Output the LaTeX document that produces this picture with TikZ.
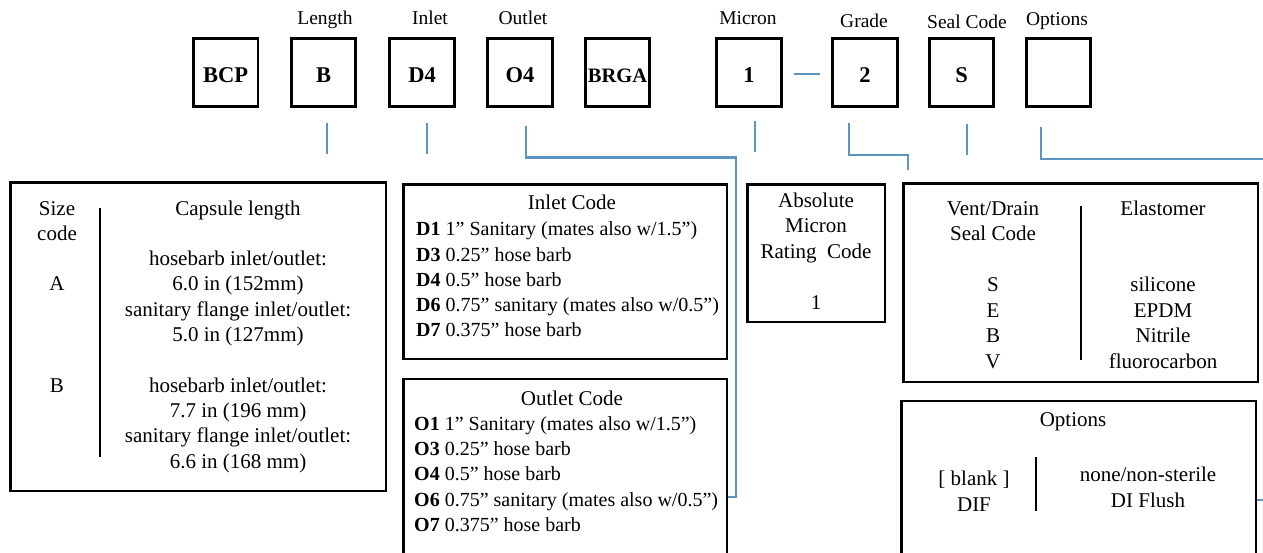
\documentclass[tikz,border=0pt]{standalone}
\usepackage{fontspec}
\setmainfont{Liberation Serif}
\usetikzlibrary{calc}
\definecolor{linkblue}{RGB}{92,148,194}
\begin{document}
\begin{tikzpicture}[x=1pt,y=-1pt,
  codebox/.style={draw,line width=2.6pt,minimum width=64.5pt,minimum height=68.5pt,
    inner sep=0pt,text height=19pt,text depth=0pt,font=\fontsize{22.5}{25}\selectfont\bfseries},
  toplabel/.style={anchor=base,inner sep=0pt,font=\fontsize{19.5}{23}\selectfont},
  infobox/.style={draw,line width=2.5pt,inner sep=0pt},
  txt/.style={anchor=base,inner sep=0pt,font=\fontsize{21}{25}\selectfont},
  txtl/.style={anchor=base west,inner sep=0pt,font=\fontsize{20}{25}\selectfont},
  divider/.style={line width=2.8pt},
  conn/.style={draw=linkblue,line width=2.6pt}
]
\useasboundingbox (0,0) rectangle (1263,552);

% top code boxes
\node[codebox] (bcp)  at (225.7,72.5) {BCP};
\node[codebox] (b)    at (323.5,72.5) {B};
\node[codebox] (d4)   at (422,72.5) {D4};
\node[codebox] (o4)   at (520,72.5) {O4};
\node[codebox,font=\fontsize{20.5}{25}\selectfont\bfseries] (brga) at (617.5,72.5) {BRGA};
\node[codebox] (mic)  at (749,72.5) {1};
\node[codebox] (grd)  at (865,72.5) {2};
\node[codebox] (seal) at (961.5,72.5) {S};
\node[codebox] (opt)  at (1058.5,72.5) {};

% top labels
\node[toplabel] (lLength) at (325,24.5) {Length};
\node[toplabel] (lInlet)  at (430,24.5) {Inlet};
\node[toplabel] (lOutlet) at (523,24.5) {Outlet};
\node[toplabel] (lMicron) at (748,24.5) {Micron};
\node[toplabel] (lGrade)  at (864,27.5) {Grade};
\node[toplabel] (lSeal)   at (967,28.5) {Seal Code};
\node[toplabel] (lOpt)    at (1057,25.5) {Options};

% info boxes
\node[infobox,minimum width=375.5pt,minimum height=308.5pt] (lenbox) at (198,336.5) {};
\node[infobox,minimum width=323.5pt,minimum height=174.5pt] (inbox) at (565,271.5) {};
\node[infobox,minimum width=323.5pt,minimum height=190.75pt] (outbox) at (565,474.6) {};
\node[infobox,minimum width=137.5pt,minimum height=137.5pt] (micbox) at (816,253) {};
\node[infobox,minimum width=354.5pt,minimum height=198.5pt] (sealbox) at (1080.5,282.5) {};
\node[infobox,minimum width=354.5pt,minimum height=168.75pt] (optbox) at (1078.5,485.6) {};

% length box
\draw[divider] (100,208) -- (100,457);
\node[txt] (sz1) at (57,215) {Size};
\node[txt] (sz2) at (57,240.3) {code};
\node[txt] (szA) at (57,290.9) {A};
\node[txt] (szB) at (57,392.1) {B};
\node[txt] (cl0) at (238,215) {Capsule length};
\node[txt] (cl1) at (238,265.6) {hosebarb inlet/outlet:};
\node[txt] (cl2) at (238,290.9) {6.0 in (152mm)};
\node[txt] (cl3) at (238,316.2) {sanitary flange inlet/outlet:};
\node[txt] (cl4) at (238,341.5) {5.0 in (127mm)};
\node[txt] (cl5) at (238,392.1) {hosebarb inlet/outlet:};
\node[txt] (cl6) at (238,417.4) {7.7 in (196 mm)};
\node[txt] (cl7) at (238,442.7) {sanitary flange inlet/outlet:};
\node[txt] (cl8) at (238,468) {6.6 in (168 mm)};

% inlet box
\node[txt] (in0) at (572,209) {Inlet Code};
\node[txtl] (in1) at (416,235.7) {\textbf{D1} 1” Sanitary (mates also w/1.5”)};
\node[txtl] (in2) at (416,261) {\textbf{D3} 0.25” hose barb};
\node[txtl] (in3) at (416,286.3) {\textbf{D4} 0.5” hose barb};
\node[txtl] (in4) at (416,311.6) {\textbf{D6} 0.75” sanitary (mates also w/0.5”)};
\node[txtl] (in5) at (416,336.9) {\textbf{D7} 0.375” hose barb};

% outlet box
\node[txt] (out0) at (572,405) {Outlet Code};
\node[txtl] (out1) at (414,430.3) {\textbf{O1} 1” Sanitary (mates also w/1.5”)};
\node[txtl] (out2) at (414,455.6) {\textbf{O3} 0.25” hose barb};
\node[txtl] (out3) at (414,480.9) {\textbf{O4} 0.5” hose barb};
\node[txtl] (out4) at (414,506.2) {\textbf{O6} 0.75” sanitary (mates also w/0.5”)};
\node[txtl] (out5) at (414,531.5) {\textbf{O7} 0.375” hose barb};

% micron box
\node[txt] (m1) at (816,207) {Absolute};
\node[txt] (m2) at (816,232.5) {Micron};
\node[txt] (m3) at (816,258) {Rating\ \ Code};
\node[txt] (m4) at (816,309) {1};

% seal box
\draw[divider] (1081,206) -- (1081,360);
\node[txt] (s0) at (993,215) {Vent/Drain};
\node[txt] (s1) at (993,240.5) {Seal Code};
\node[txt] (s2) at (993,291.7) {S};
\node[txt] (s3) at (993,317.2) {E};
\node[txt] (s4) at (993,342.7) {B};
\node[txt] (s5) at (993,368) {V};
\node[txt] (e0) at (1163,215) {Elastomer};
\node[txt] (e2) at (1163,291.7) {silicone};
\node[txt] (e3) at (1163,317.2) {EPDM};
\node[txt] (e4) at (1163,342.7) {Nitrile};
\node[txt] (e5) at (1163,368) {fluorocarbon};

% options box
\node[txt] (o0) at (1073,426) {Options};
\draw[divider] (1036,457) -- (1036,511);
\node[txt] (o1) at (974,485) {[ blank ]};
\node[txt] (o2) at (974,511) {DIF};
\node[txt] (o3) at (1148,481.7) {none/non-sterile};
\node[txt] (o4t) at (1148,507.3) {DI Flush};

% connectors
\coordinate (edgeTop) at (1275,159);
\coordinate (edgeLow) at (1275,500);
\draw[conn] (327,123) -- (327,154);
\draw[conn] (427,123) -- (427,154);
\draw[conn] (526,126) -- (526,157.5) -- (736,157.5) -- (736,497) -- (outbox.east |- 0,497);
\draw[conn] (755,121) -- (755,152);
\draw[conn] (849,123) -- (849,155) -- (908,155) -- (908,170);
\draw[conn] (967,124) -- (967,155);
\draw[conn] (1041,127) -- (1041,159) -- (edgeTop);
\draw[conn] (optbox.east |- 0,500) -- (edgeLow);
\draw[conn] (mic.east) ++(11,1.5) -- ($(grd.west)+(-11,1.5)$);
\end{tikzpicture}
\end{document}
